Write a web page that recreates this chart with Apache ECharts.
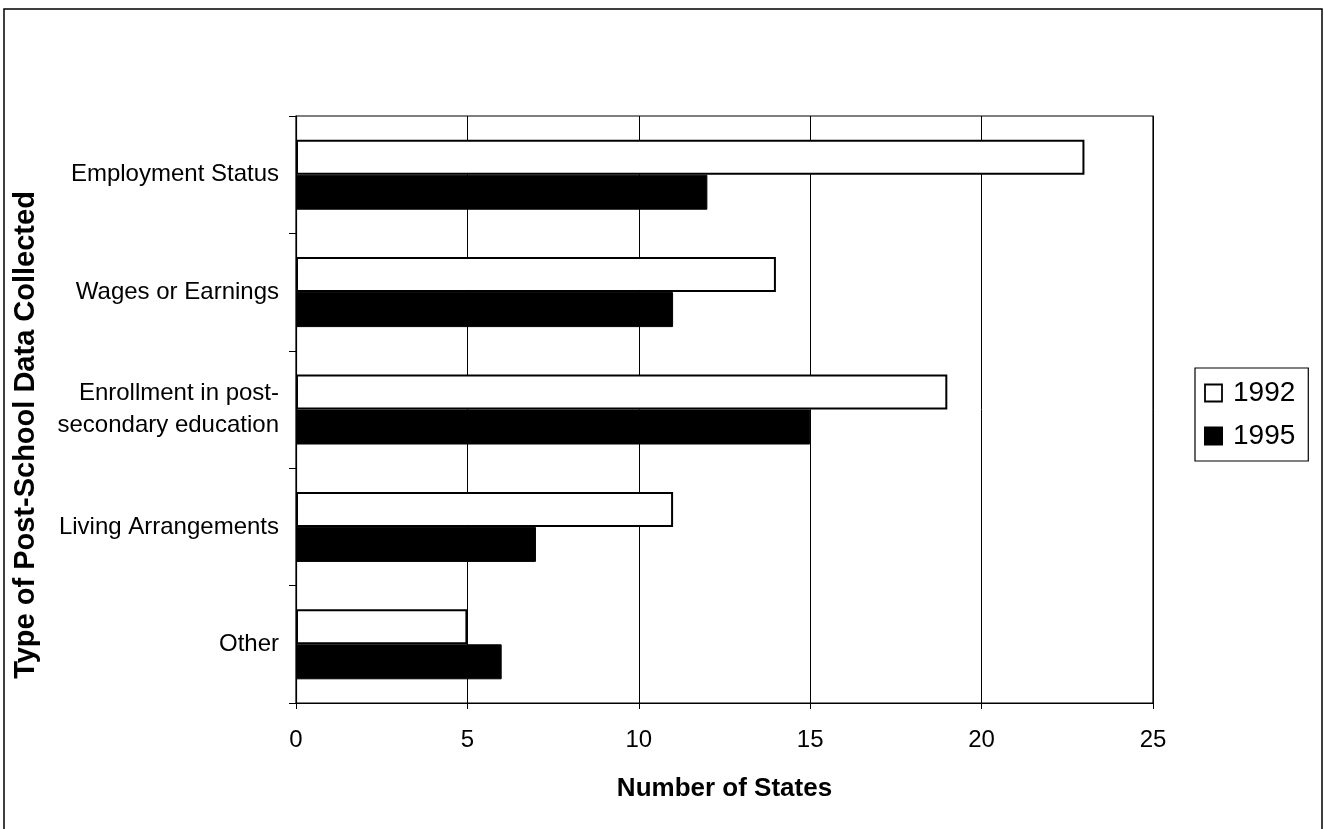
<!DOCTYPE html>
<html><head><meta charset="utf-8">
<script src="https://cdn.jsdelivr.net/npm/echarts@6/dist/echarts.min.js"></script>
<style>html,body{margin:0;padding:0;background:#fff}#c{width:1324px;height:829px}</style>
</head><body><div id="c"></div>
<script>
const categories = ['Employment Status', 'Wages or Earnings', 'Enrollment in post-\nsecondary education', 'Living Arrangements', 'Other'];
const values1992 = [23, 14, 19, 11, 5];
const values1995 = [12, 11, 15, 7, 6];
const xTicks = [0, 5, 10, 15, 20, 25];
const yTitle = 'Type of Post-School Data Collected';
const xTitle = 'Number of States';

const chart = echarts.init(document.getElementById('c'));
const F = 'Liberation Sans, Arial, sans-serif';
chart.setOption({
  animation: false,
  textStyle: { fontFamily: F, color: '#000' },
  graphic: [
    { type: 'rect', shape: { x: 4, y: 9, width: 1318, height: 840 },
      style: { fill: 'none', stroke: '#000', lineWidth: 1.5 }, silent: true },
    { type: 'text', x: 26, y: 435, rotation: Math.PI / 2,
      style: { text: yTitle, font: 'bold 29px ' + F, fill: '#000', textAlign: 'center', textVerticalAlign: 'middle' } }
  ],
  grid: { left: 296, right: 171, top: 116, bottom: 126, show: true, borderColor: '#000', borderWidth: 1.2, backgroundColor: 'transparent' },
  legend: {
    left: 1195, top: 368, orient: 'vertical', itemWidth: 17, itemHeight: 17, itemGap: 15,
    padding: [11, 13, 11, 9],
    borderColor: '#000', borderWidth: 1.2,
    textStyle: { fontSize: 28, fontFamily: F, color: '#000', padding: [0, 0, 0, 6] },
    data: [
      { name: '1992', icon: 'rect', itemStyle: { color: '#fff', borderColor: '#000', borderWidth: 1.8 } },
      { name: '1995', icon: 'rect', itemStyle: { color: '#000' } }
    ]
  },
  xAxis: {
    type: 'value', min: 0, max: 25, interval: 5,
    name: xTitle, nameLocation: 'middle', nameGap: 73,
    nameTextStyle: { fontSize: 26, fontWeight: 'bold', fontFamily: F, color: '#000' },
    axisLine: { show: true, lineStyle: { color: '#000', width: 1.2 } },
    axisTick: { show: true, length: 6, lineStyle: { color: '#000' } },
    axisLabel: { fontSize: 24, color: '#000', margin: 25, fontFamily: F,
      formatter: v => xTicks.includes(v) ? String(v) : '' },
    splitLine: { show: true, lineStyle: { color: '#000', width: 1 } }
  },
  yAxis: {
    type: 'category', data: categories, inverse: true,
    axisLine: { show: true, lineStyle: { color: '#000', width: 1.2 } },
    axisTick: { show: true, length: 7, lineStyle: { color: '#000' } },
    axisLabel: { fontSize: 24, color: '#000', margin: 17, align: 'right', lineHeight: 32, fontFamily: F }
  },
  series: [
    { name: '1992', type: 'bar', data: values1992, barWidth: 35, barGap: '0%',
      itemStyle: { color: '#fff', borderColor: '#000', borderWidth: 2 } },
    { name: '1995', type: 'bar', data: values1995, barWidth: 35, barGap: '0%',
      itemStyle: { color: '#000', borderColor: '#000', borderWidth: 1 } }
  ]
});
</script></body></html>
